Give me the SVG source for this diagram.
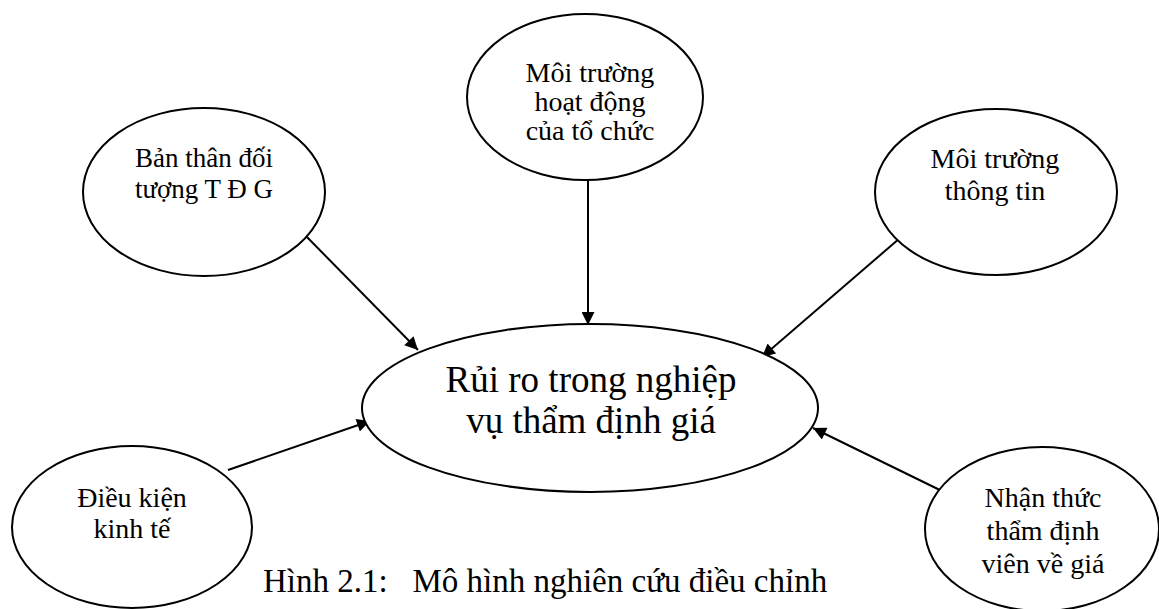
<svg xmlns="http://www.w3.org/2000/svg" width="1159" height="609" viewBox="0 0 1159 609">
<style>
.n{fill:#fff;stroke:#000;stroke-width:2}
.t{font-family:"Liberation Serif","Times New Roman",serif;fill:#000;text-anchor:middle}
.s{font-size:27px}
.b{font-size:28px}
.m{font-size:37px}
.c{stroke:#000;stroke-width:2;fill:none;marker-end:url(#ah)}
</style>
<defs>
<marker id="ah" viewBox="0 0 10 10" refX="10" refY="5" markerWidth="7.5" markerHeight="6.5" markerUnits="strokeWidth" orient="auto">
<path d="M0,0 L10,5 L0,10 z" fill="#000"/>
</marker>
</defs>
<rect width="1159" height="609" fill="#fff"/>
<g id="connectors">
<line class="c" x1="303" y1="233" x2="418" y2="350"/>
<line class="c" x1="588" y1="180" x2="588" y2="325"/>
<line class="c" x1="900" y1="238" x2="762" y2="357"/>
<line class="c" x1="228" y1="470" x2="370" y2="421"/>
<line class="c" x1="948" y1="494" x2="813" y2="428"/>
</g>
<g id="n-ban-than">
<ellipse class="n" cx="204" cy="192" rx="121" ry="84"/>
<text class="t s" x="204" y="167">Bản thân đối</text>
<text class="t s" x="204" y="198">tượng T Đ G</text>
</g>
<g id="n-moi-truong-hd">
<ellipse class="n" cx="585" cy="97" rx="118" ry="83"/>
<text class="t b" x="590" y="82">Môi trường</text>
<text class="t b" x="590" y="111">hoạt động</text>
<text class="t b" x="590" y="140">của tổ chức</text>
</g>
<g id="n-moi-truong-tt">
<ellipse class="n" cx="996" cy="192" rx="121" ry="83"/>
<text class="t b" x="995" y="168">Môi trường</text>
<text class="t b" x="995" y="200">thông tin</text>
</g>
<g id="n-rui-ro">
<ellipse class="n" cx="590" cy="408" rx="228" ry="84"/>
<text class="t m" x="591" y="392">Rủi ro trong nghiệp</text>
<text class="t m" x="591" y="433">vụ thẩm định giá</text>
</g>
<g id="n-dieu-kien">
<ellipse class="n" cx="132" cy="527" rx="120" ry="81"/>
<text class="t b" x="132" y="507">Điều kiện</text>
<text class="t b" x="132" y="538">kinh tế</text>
</g>
<g id="n-nhan-thuc">
<ellipse class="n" cx="1042" cy="529" rx="117" ry="82"/>
<text class="t b" x="1043" y="507">Nhận thức</text>
<text class="t b" x="1043" y="540">thẩm định</text>
<text class="t b" x="1043" y="573">viên về giá</text>
</g>
<text xml:space="preserve" style="font-family:'Liberation Serif','Times New Roman',serif;font-size:33px" x="263" y="592">Hình 2.1:   Mô hình nghiên cứu điều chỉnh</text>
</svg>
